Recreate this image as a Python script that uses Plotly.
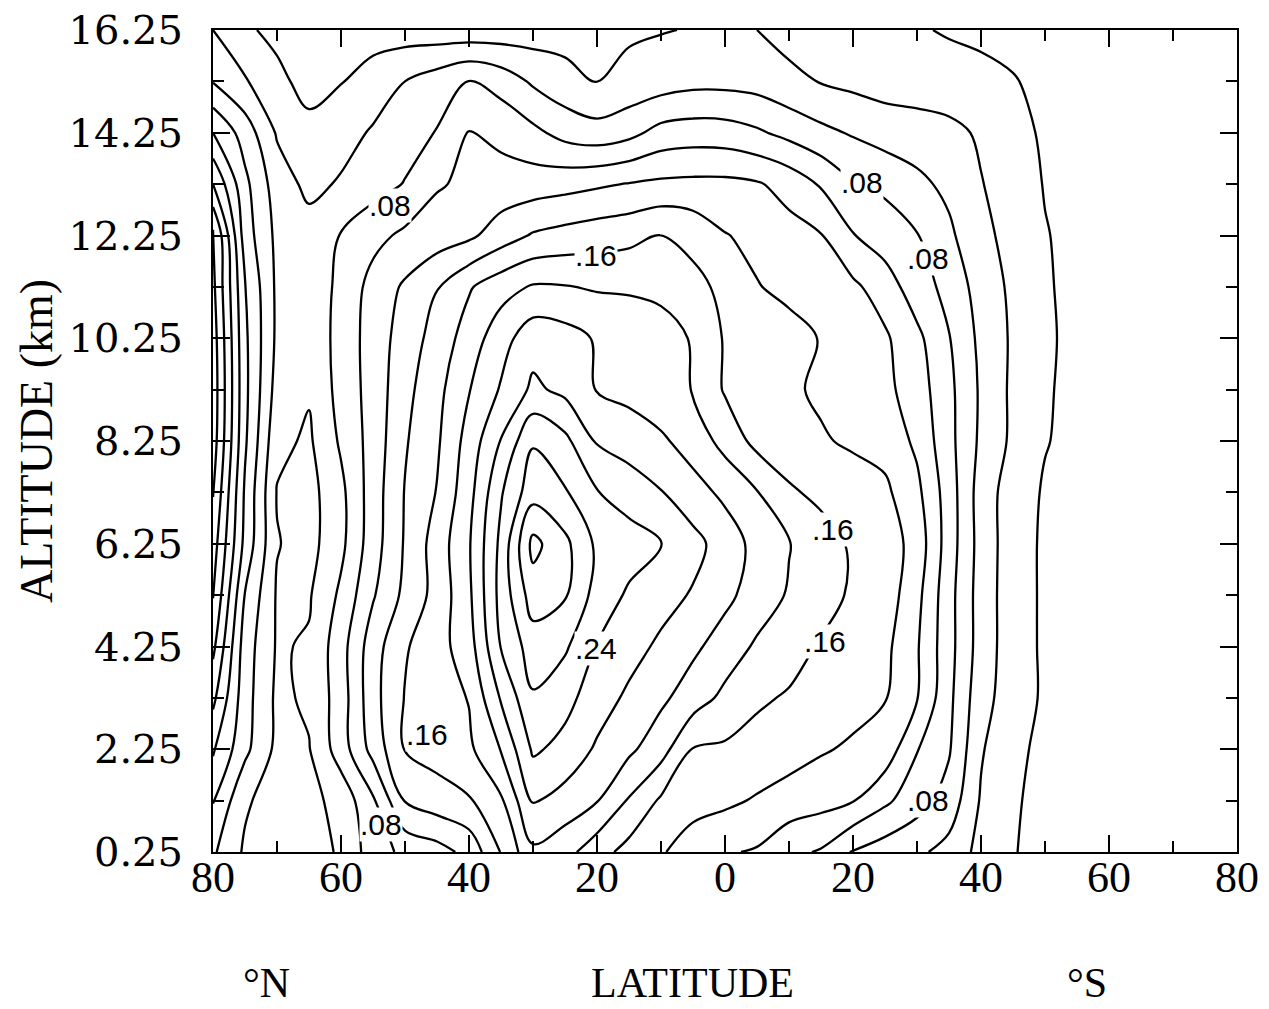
import plotly.graph_objects as go

# Latitude columns (positive = N, negative = S), left edge is 80 N
latitudes = [80, 75, 70, 65, 60, 55, 50, 45, 40, 35, 30, 25, 20, 15, 10, 5, 0,
             -5, -10, -15, -20, -25, -30, -35, -40, -45, -50, -55, -60, -65, -70, -75, -80]

# Altitude rows, listed from the top (16.25 km) down to 0.25 km
altitudes_top_down = [16.25, 15.25, 14.25, 13.25, 12.25, 11.25, 10.25, 9.25, 8.25,
                      7.25, 6.25, 5.25, 4.25, 3.25, 2.25, 1.25, 0.25]

# Field values (one row per altitude, top row first)
row_16 = [.060,.043,.035,.030,.030,.030,.030,.028,.027,.028,.030,.032,.035,.037,.039,.041,.041,.040,.033,.030,.028,.026,.0215,.0185,.017,.015,.013,.012,.012,.012,.012,.012,.012]
row_15 = [.079,.062,.045,.033,.039,.050,.060,.070,.081,.072,.057,.047,.039,.046,.050,.054,.054,.052,.045,.039,.035,.032,.030,.027,.024,.021,.016,.013,.012,.012,.012,.012,.012]
row_14 = [.120,.091,.058,.046,.053,.062,.072,.081,.101,.095,.085,.073,.068,.074,.087,.090,.089,.083,.074,.065,.058,.051,.049,.046,.037,.027,.017,.013,.012,.012,.012,.012,.012]
row_13 = [.160,.105,.070,.055,.062,.072,.081,.098,.104,.108,.110,.113,.117,.121,.124,.125,.125,.122,.113,.098,.082,.076,.065,.055,.041,.030,.019,.014,.012,.012,.012,.012,.012]
row_12 = [.205,.110,.075,.068,.081,.094,.104,.110,.116,.130,.142,.147,.151,.154,.161,.154,.141,.135,.127,.121,.101,.090,.081,.064,.044,.035,.021,.015,.013,.013,.013,.013,.013]
row_11 = [.205,.121,.076,.067,.085,.107,.123,.139,.158,.172,.182,.181,.178,.178,.177,.166,.155,.141,.135,.130,.124,.110,.089,.074,.051,.036,.022,.015,.013,.013,.013,.013,.013]
row_10 = [.210,.124,.076,.066,.087,.109,.129,.148,.169,.192,.212,.208,.198,.190,.185,.179,.158,.152,.147,.139,.132,.123,.105,.081,.055,.037,.023,.015,.013,.013,.013,.013,.013]
row_09 = [.212,.125,.072,.062,.087,.108,.134,.154,.179,.202,.224,.215,.199,.194,.188,.179,.158,.150,.143,.137,.131,.125,.110,.085,.057,.036,.022,.015,.013,.013,.013,.013,.013]
row_08 = [.210,.123,.065,.057,.083,.108,.138,.157,.188,.221,.258,.245,.218,.211,.203,.192,.173,.154,.148,.142,.137,.133,.116,.086,.056,.036,.021,.015,.013,.013,.013,.013,.013]
row_07 = [.201,.117,.059,.053,.075,.110,.141,.161,.193,.238,.272,.262,.241,.231,.221,.207,.196,.181,.163,.155,.150,.144,.125,.090,.051,.030,.018,.014,.013,.013,.013,.013,.013]
row_06 = [.190,.114,.061,.053,.075,.111,.142,.169,.198,.245,.306,.285,.256,.249,.241,.227,.210,.194,.181,.169,.157,.151,.132,.090,.052,.029,.017,.014,.013,.013,.013,.013,.013]
row_05 = [.181,.099,.058,.058,.084,.118,.145,.167,.196,.247,.290,.282,.252,.237,.228,.218,.205,.191,.178,.168,.157,.151,.126,.087,.051,.029,.017,.014,.013,.013,.013,.013,.013]
row_04 = [.165,.090,.058,.062,.092,.131,.158,.172,.191,.241,.270,.263,.239,.228,.216,.204,.191,.177,.168,.158,.151,.145,.122,.087,.051,.029,.017,.014,.013,.013,.013,.013,.013]
row_03 = [.145,.088,.056,.063,.090,.133,.161,.170,.181,.222,.258,.246,.230,.216,.204,.190,.175,.163,.158,.153,.147,.141,.121,.085,.047,.030,.017,.014,.013,.013,.013,.013,.013]
row_02 = [.123,.085,.055,.059,.090,.127,.161,.168,.176,.201,.243,.234,.217,.204,.188,.159,.157,.153,.149,.142,.137,.132,.101,.082,.042,.024,.016,.014,.013,.013,.013,.013,.013]
row_01 = [.101,.063,.050,.054,.067,.097,.141,.151,.158,.177,.222,.212,.201,.178,.157,.151,.144,.138,.131,.127,.121,.104,.088,.072,.038,.022,.015,.014,.013,.013,.013,.013,.013]
row_00 = [.083,.057,.045,.050,.063,.090,.105,.112,.126,.161,.196,.187,.168,.153,.143,.125,.122,.118,.105,.098,.078,.070,.064,.053,.034,.021,.014,.013,.013,.013,.013,.013,.013]

values_top_down = [row_16, row_15, row_14, row_13, row_12, row_11, row_10, row_09, row_08,
                   row_07, row_06, row_05, row_04, row_03, row_02, row_01, row_00]

# Axis ticks
x_tick_vals = [80, 60, 40, 20, 0, -20, -40, -60, -80]
x_tick_text = ["80", "60", "40", "20", "0", "20", "40", "60", "80"]
x_minor_vals = [70, 50, 30, 10, -10, -30, -50, -70]
y_tick_vals = [0.25, 2.25, 4.25, 6.25, 8.25, 10.25, 12.25, 14.25, 16.25]
y_tick_text = ["0.25", "2.25", "4.25", "6.25", "8.25", "10.25", "12.25", "14.25", "16.25"]
y_minor_vals = [1.25, 3.25, 5.25, 7.25, 9.25, 11.25, 13.25, 15.25]

# Contour levels
level_start, level_end, level_step = 0.02, 0.3001, 0.02

# Contour labels placed as in the original: (latitude, altitude, text)
contour_labels = [
    (52.3, 12.84, ".08"),
    (20.2, 11.87, ".16"),
    (-21.4, 13.29, ".08"),
    (-31.7, 11.81, ".08"),
    (-16.9, 6.52, ".16"),
    (20.2, 4.22, ".24"),
    (-15.6, 4.34, ".16"),
    (46.6, 2.53, ".16"),
    (53.75, 0.78, ".08"),
    (-31.7, 1.26, ".08"),
]

altitudes = altitudes_top_down[::-1]
values = values_top_down[::-1]

fig = go.Figure()
fig.add_trace(go.Contour(
    x=latitudes, y=altitudes, z=values,
    contours=dict(coloring="lines", start=level_start, end=level_end,
                  size=level_step, showlabels=False),
    line=dict(width=2.3, smoothing=1.0),
    colorscale=[[0, "black"], [1, "black"]],
    showscale=False, hoverinfo="skip",
))

for lat, alt, txt in contour_labels:
    fig.add_annotation(x=lat, y=alt, text=txt, showarrow=False,
                       xanchor="center", yanchor="middle",
                       font=dict(family="Liberation Sans", size=30, color="black"),
                       bgcolor="white", borderpad=0)

serif = "Liberation Serif"
# plot area spans 1024 x 822 px; paper positions derived from the original pixel layout
fig.add_annotation(xref="paper", yref="paper", x=-0.1729, y=0.5, text="ALTITUDE (km)",
                   textangle=-90, showarrow=False, xanchor="center", yanchor="middle",
                   font=dict(family=serif, size=46, color="black"))
bottom_y = -0.1594
fig.add_annotation(xref="paper", yref="paper", x=0.0527, y=bottom_y, text="°N",
                   showarrow=False, xanchor="center", yanchor="middle",
                   font=dict(family=serif, size=42, color="black"))
fig.add_annotation(xref="paper", yref="paper", x=0.4678, y=bottom_y, text="LATITUDE",
                   showarrow=False, xanchor="center", yanchor="middle",
                   font=dict(family=serif, size=42, color="black"))
fig.add_annotation(xref="paper", yref="paper", x=0.8535, y=bottom_y, text="°S",
                   showarrow=False, xanchor="center", yanchor="middle",
                   font=dict(family=serif, size=42, color="black"))

# The page body adds an 8 px margin; figure size / margins compensate for it.
fig.update_layout(
    width=1261, height=1001, autosize=False,
    margin=dict(l=205, r=32, t=22, b=157, autoexpand=False),
    paper_bgcolor="white", plot_bgcolor="white",
    showlegend=False,
    xaxis=dict(range=[80, -80], tickmode="array", tickvals=x_tick_vals, ticktext=x_tick_text,
               ticks="inside", ticklen=17, tickwidth=1.5, tickcolor="black",
               showline=True, linecolor="black", linewidth=2, mirror="ticks",
               showgrid=False, zeroline=False, ticklabelstandoff=-15,
               ticklabeloverflow="allow", automargin=False,
               tickfont=dict(family=serif, size=44, color="black"),
               minor=dict(tickmode="array", tickvals=x_minor_vals, ticks="inside",
                          ticklen=11, tickwidth=1.5, tickcolor="black", showgrid=False)),
    yaxis=dict(range=[0.25, 16.25], tickmode="array", tickvals=y_tick_vals, ticktext=y_tick_text,
               ticks="inside", ticklen=17, tickwidth=1.5, tickcolor="black",
               showline=True, linecolor="black", linewidth=2, mirror="ticks",
               showgrid=False, zeroline=False, ticklabelstandoff=20,
               ticklabeloverflow="allow", automargin=False,
               tickfont=dict(family="DejaVu Serif", size=40, color="black"),
               minor=dict(tickmode="array", tickvals=y_minor_vals, ticks="inside",
                          ticklen=11, tickwidth=1.5, tickcolor="black", showgrid=False)),
)

fig.write_html("out.html")
